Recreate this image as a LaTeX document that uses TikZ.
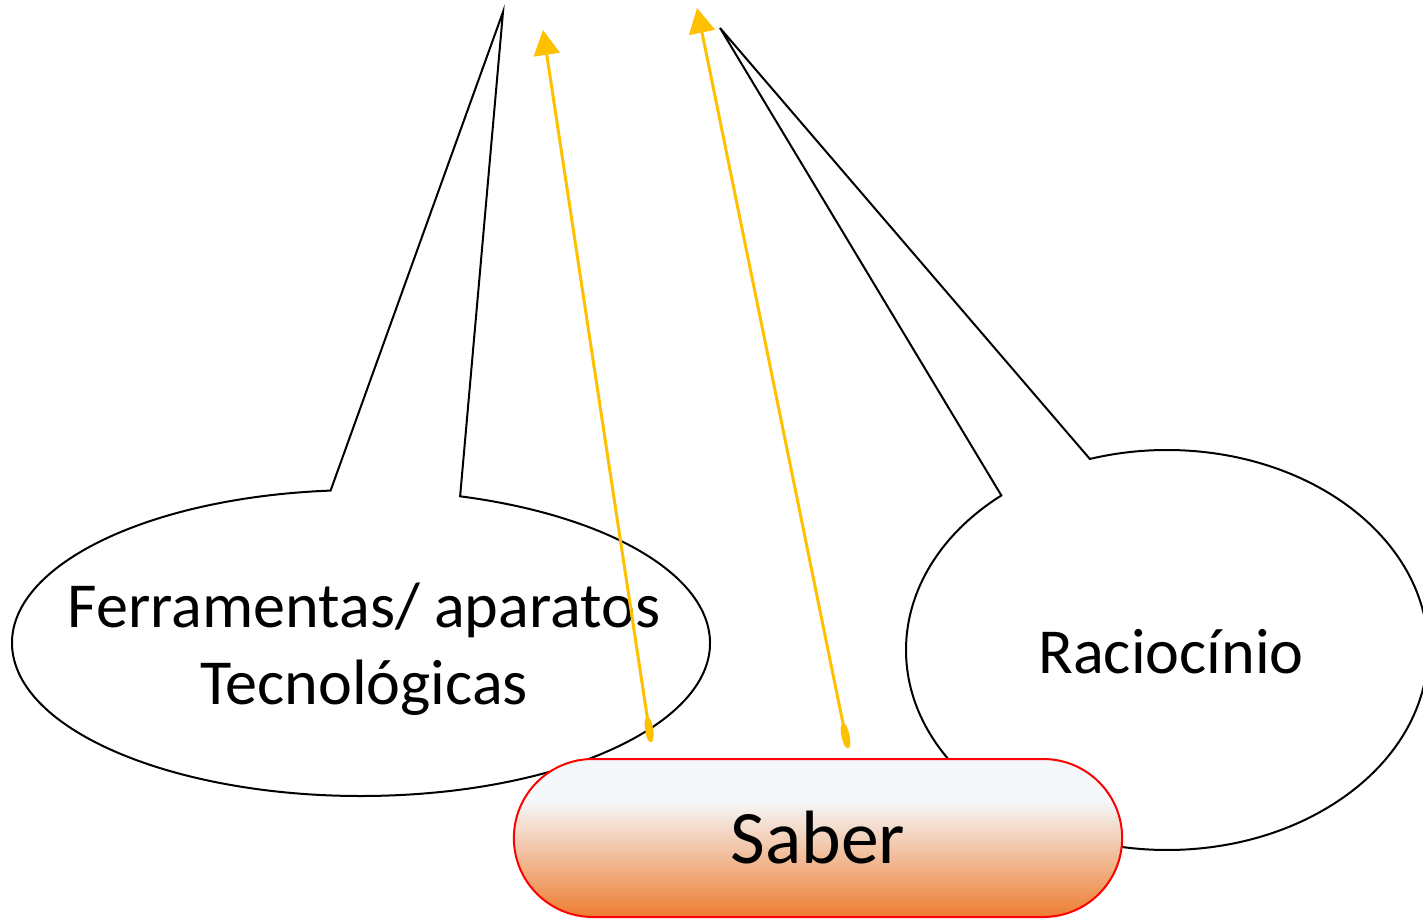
\documentclass[tikz,border=0pt]{standalone}
\usepackage{fontspec}
\setmainfont{Carlito}
\usepackage{xcolor}
\usetikzlibrary{arrows.meta,shapes.misc}
\definecolor{ouro}{HTML}{FFC000}
\definecolor{laranja}{HTML}{ED7D31}
\definecolor{gelo}{HTML}{F5F8FB}
\pgfdeclareverticalshading{saberfundo}{100bp}{color(0bp)=(laranja); color(25bp)=(laranja); color(62bp)=(gelo); color(100bp)=(gelo)}
\tikzset{
	balao/.style={draw, line width = 0.4mm, fill=white},
	seta/.style={draw=ouro, line width = 0.6mm, {Ellipse[length=5mm,width=1.6mm]}-{Triangle[length=5mm,width=5.2mm]}},
	texto/.style={font=\fontsize{36.5}{44}\selectfont, align=center}
}
\begin{document}
\begin{tikzpicture}
					\useasboundingbox (0,0) rectangle (28.46,18.38);
					
					\coordinate (pontaA) at (10.06,18.14);
					\coordinate (pontaB) at (14.40,17.82);
					
					\draw[balao] ({7.22+6.98*cos(95)},{5.52+3.06*sin(95)}) arc[start angle=95, end angle=433.5, x radius=6.98, y radius=3.06] -- (pontaA) -- cycle;
					\draw[balao] ({23.34+5.22*cos(129.4)},{5.38+4.0*sin(129.4)}) arc[start angle=129.4, end angle=467.2, x radius=5.22, y radius=4.0] -- (pontaB) -- cycle;
					
					\node[texto] (ferr) at (7.28,5.40) {Ferramentas/ aparatos\\Tecnológicas};
					\node[texto] (racio) at (23.42,5.34) {Raciocínio};
					
					\node[draw=red, line width = 0.4mm, rounded rectangle, minimum width=12.4cm, minimum height=3.16cm, shading=saberfundo, font=\fontsize{43}{52}\selectfont] (saber) at (16.36,1.62) {Saber};
					
					\coordinate (baseA) at (13.02,3.54);
					\coordinate (topoA) at (10.86,17.78);
					\coordinate (baseB) at (16.96,3.42);
					\coordinate (topoB) at (13.94,18.22);
					
					\draw[seta] (baseA) -- (topoA);
					\draw[seta] (baseB) -- (topoB);
				\end{tikzpicture}
\end{document}
